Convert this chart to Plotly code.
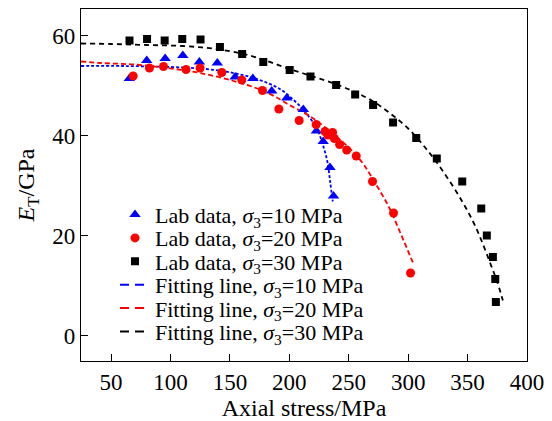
import plotly.graph_objects as go

# ---- data ----
stress_10 = [65.4, 80.0, 95.5, 110.4, 124.3, 139.4, 154.4, 169.3, 185.2, 197.9, 211.8, 222.8, 228.5, 234.2, 237.2]
et_10 = [51.4, 55.0, 55.4, 56.0, 54.7, 54.5, 51.7, 51.4, 48.9, 47.5, 45.2, 40.9, 38.8, 33.6, 27.9]

stress_20 = [68.6, 82.3, 94.1, 113.1, 124.9, 143.2, 160.0, 177.4, 191.2, 208.3, 222.6, 230.0, 232.5,
             236.4, 237.9, 242.3, 248.3, 256.3, 270.0, 287.7, 302.0]
et_20 = [51.9, 53.5, 53.8, 53.2, 53.5, 52.6, 51.1, 49.0, 45.3, 43.0, 42.2, 40.8, 40.1,
         40.6, 39.4, 38.2, 37.1, 35.9, 30.8, 24.5, 12.5]

stress_30 = [65.5, 80.3, 95.1, 109.9, 125.3, 141.6, 160.3, 178.1, 200.3, 217.8, 239.4, 255.4, 270.5,
             287.3, 306.8, 324.1, 345.5, 361.5, 366.2, 371.3, 373.3, 373.8]
et_30 = [59.0, 59.3, 59.0, 59.3, 59.2, 57.7, 56.3, 54.7, 53.1, 51.8, 50.1, 48.2, 46.1,
         42.6, 39.5, 35.4, 30.8, 25.4, 20.0, 15.7, 11.3, 6.7]

fit_x_10 = [24.7, 60, 100, 130, 155, 175, 192, 205, 214, 223, 228, 232, 234.5, 236.5]
fit_y_10 = [53.9, 53.9, 53.7, 53.3, 52.4, 51.1, 49.3, 46.8, 44.5, 41.5, 38.3, 34.8, 30.5, 26.8]

fit_x_20 = [24.7, 41, 69, 97, 125, 153, 173, 187, 200, 217, 235, 250, 262, 272, 284, 294, 304.5]
fit_y_20 = [54.8, 54.5, 54.2, 53.5, 52.5, 50.9, 49.4, 47.9, 46.1, 43.9, 40.7, 37.6, 34.4, 30.6, 25.6, 20.2, 14.3]

fit_x_30 = [24.7, 50, 80, 110, 135, 160, 180, 200, 220, 240, 255, 270, 285, 300, 315, 330, 345,
            355, 362, 369, 375, 379.7]
fit_y_30 = [58.4, 58.3, 58.1, 57.9, 57.4, 56.4, 55.0, 53.3, 51.8, 50.2, 48.7, 46.9, 44.4, 41.4, 37.4,
            32.6, 27.0, 22.6, 18.8, 14.5, 10.7, 7.0]

x_ticks = [50, 100, 150, 200, 250, 300, 350, 400]
y_ticks = [0, 20, 40, 60]

labels = [
    "Lab data, <i>σ</i><sub>3</sub>=10 MPa",
    "Lab data, <i>σ</i><sub>3</sub>=20 MPa",
    "Lab data, <i>σ</i><sub>3</sub>=30 MPa",
    "Fitting line, <i>σ</i><sub>3</sub>=10 MPa",
    "Fitting line, <i>σ</i><sub>3</sub>=20 MPa",
    "Fitting line, <i>σ</i><sub>3</sub>=30 MPa",
]

BLUE = "#0000ff"
RED = "#ff0000"
BLACK = "#000000"
FONT = "Liberation Serif"

fig = go.Figure()

# fitting lines (drawn first, below markers)
for fx, fy, col, dash in [(fit_x_10, fit_y_10, BLUE, "3px,2px"),
                          (fit_x_20, fit_y_20, RED, "5px,3px"),
                          (fit_x_30, fit_y_30, BLACK, "5px,4px")]:
    fig.add_trace(go.Scatter(x=fx, y=fy, mode="lines", line_shape="spline",
                             line=dict(color=col, width=1.8, dash=dash),
                             showlegend=False, hoverinfo="skip"))

# lab data
for i, (sx, sy, col, sym, sz) in enumerate([(stress_10, et_10, BLUE, "triangle-up", 10),
                                            (stress_20, et_20, RED, "circle", 9),
                                            (stress_30, et_30, BLACK, "square", 8)]):
    fig.add_trace(go.Scatter(x=sx, y=sy, mode="markers", name=labels[i],
                             marker=dict(color=col, symbol=sym, size=sz, line=dict(width=0)),
                             legend="legend" if i == 0 else f"legend{i+1}"))

# legend-only samples for fitting lines
for j, col in enumerate([BLUE, RED, BLACK]):
    k = j + 3
    fig.add_trace(go.Scatter(x=[None], y=[None], mode="lines", name=labels[k],
                             line=dict(color=col, width=2, dash="9px,6px"),
                             legend=f"legend{k+1}"))

# plot area geometry (px)
L, R, T, B = 81, 526.7, 7.3, 361.0
W, H = 552, 421
row_px = [214, 237.5, 261, 284.5, 308, 331.5]
leg_x = (115 - L) / (R - L)

legends = {}
for idx, ypx in enumerate(row_px):
    key = "legend" if idx == 0 else f"legend{idx+1}"
    legends[key] = dict(x=leg_x, xanchor="left", y=(B - ypx) / (B - T), yanchor="middle",
                        bgcolor="rgba(0,0,0,0)", borderwidth=0,
                        font=dict(family=FONT, size=22, color="black"))

axis_common = dict(showline=True, linecolor="black", linewidth=1.3, mirror=True,
                   ticks="inside", ticklen=7, tickwidth=1.3, tickcolor="black",
                   showgrid=False, zeroline=False,
                   tickfont=dict(family=FONT, size=23, color="black"))

fig.update_layout(
    width=W, height=H,
    margin=dict(l=L, r=W - R, t=T, b=H - B),
    paper_bgcolor="white", plot_bgcolor="white",
    xaxis=dict(range=[24.7, 400], tickvals=x_ticks,
               title=dict(text="Axial stress/MPa", font=dict(family=FONT, size=24, color="black"),
                          standoff=2),
               **axis_common),
    yaxis=dict(range=[-5.1, 65.3], tickvals=y_ticks,
               title=dict(text="<i>E</i><sub>T</sub>/GPa", font=dict(family=FONT, size=24, color="black"),
                          standoff=10),
               **axis_common),
    **legends,
)

fig.write_html("out.html")
